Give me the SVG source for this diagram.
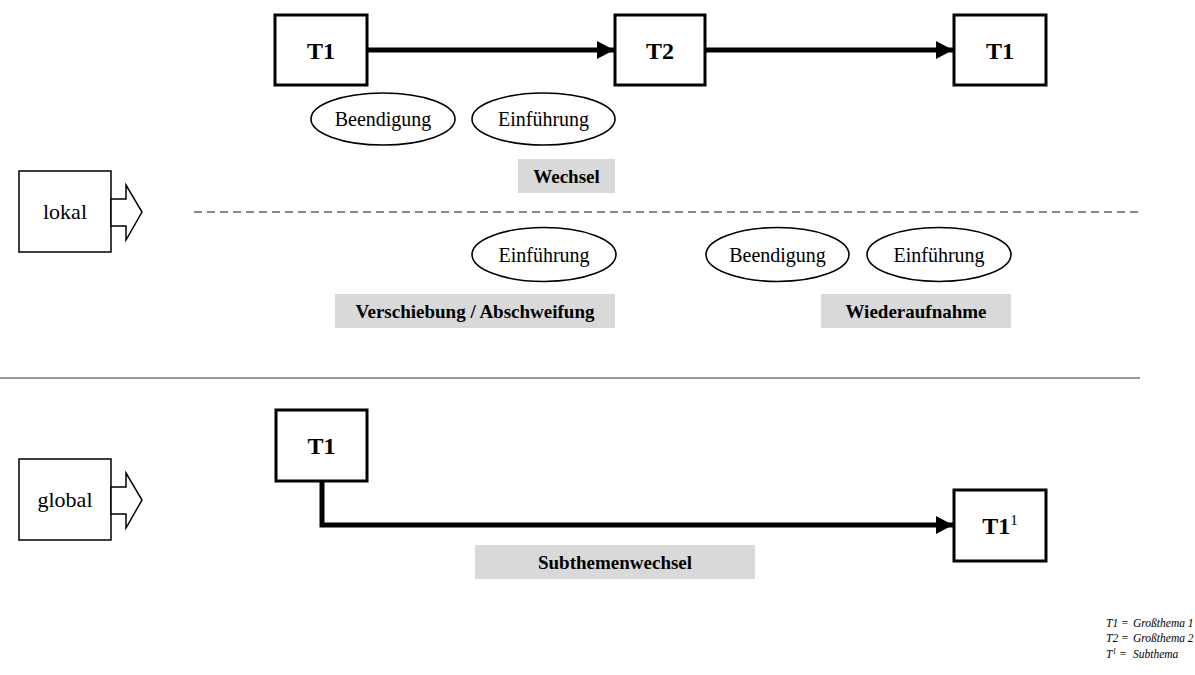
<svg xmlns="http://www.w3.org/2000/svg" width="1195" height="675" viewBox="0 0 1195 675">
<style>
.tbox{fill:#fff;stroke:#000;stroke-width:3}
.side{fill:#fff;stroke:#000;stroke-width:1.5}
.ell{fill:#fff;stroke:#000;stroke-width:1.6}
.lab{fill:#d9d9d9;stroke:none}
.tt{font-family:"Liberation Serif","Times New Roman",serif;font-weight:bold;font-size:24px;text-anchor:middle;fill:#000}
.et{font-family:"Liberation Serif","Times New Roman",serif;font-size:20px;text-anchor:middle;fill:#000}
.lt{font-family:"Liberation Serif","Times New Roman",serif;font-weight:bold;font-size:19px;text-anchor:middle;fill:#000}
.st{font-family:"Liberation Serif","Times New Roman",serif;font-size:22px;text-anchor:middle;fill:#000}
.leg{font-family:"Liberation Serif","Times New Roman",serif;font-style:italic;font-size:11.5px;fill:#000}
.conn{fill:none;stroke:#000;stroke-width:5}
</style>
<defs>
<marker id="ah" markerUnits="userSpaceOnUse" markerWidth="17" markerHeight="18" viewBox="0 0 17 18" refX="17" refY="9" orient="auto">
<path d="M0,0 L17,9 L0,18 z" fill="#000"/>
</marker>
</defs>

<line x1="194" y1="212" x2="1138" y2="212" stroke="#888" stroke-width="2" stroke-dasharray="8,5"/>
<line x1="0" y1="378" x2="1140" y2="378" stroke="#999" stroke-width="2"/>

<g id="connectors">
<line class="conn" x1="367" y1="50" x2="614" y2="50" marker-end="url(#ah)"/>
<line class="conn" x1="706" y1="50" x2="953" y2="50" marker-end="url(#ah)"/>
<path class="conn" d="M322,482 V525 H953" marker-end="url(#ah)"/>
</g>

<g id="lokal">
<rect class="side" x="19" y="171" width="92" height="81"/>
<polygon class="side" points="111,199 126,199 126,185 142,212 126,240 126,226 111,226"/>
<text class="st" x="65" y="219">lokal</text>
</g>
<g id="global">
<rect class="side" x="19" y="459" width="92" height="81"/>
<polygon class="side" points="111,487 126,487 126,473 142,500 126,528 126,514 111,514"/>
<text class="st" x="65" y="507">global</text>
</g>

<g id="t1-top">
<rect class="tbox" x="275" y="15" width="92" height="70"/>
<text class="tt" x="321" y="59">T1</text>
</g>
<g id="t2-top">
<rect class="tbox" x="615" y="15" width="90" height="70"/>
<text class="tt" x="660" y="59">T2</text>
</g>
<g id="t1-top-right">
<rect class="tbox" x="954" y="15" width="92" height="70"/>
<text class="tt" x="1000" y="59">T1</text>
</g>

<g id="ell-beendigung-1">
<ellipse class="ell" cx="383" cy="119" rx="72" ry="26"/>
<text class="et" x="383" y="126">Beendigung</text>
</g>
<g id="ell-einfuehrung-1">
<ellipse class="ell" cx="543.5" cy="119" rx="71.5" ry="26"/>
<text class="et" x="543.5" y="126">Einführung</text>
</g>
<g id="label-wechsel">
<rect class="lab" x="518" y="159" width="97" height="34"/>
<text class="lt" x="566.5" y="183">Wechsel</text>
</g>

<g id="ell-einfuehrung-2">
<ellipse class="ell" cx="544" cy="254.5" rx="72" ry="27"/>
<text class="et" x="544" y="261.5">Einführung</text>
</g>
<g id="ell-beendigung-3">
<ellipse class="ell" cx="777.5" cy="254.5" rx="71.5" ry="27"/>
<text class="et" x="777.5" y="261.5">Beendigung</text>
</g>
<g id="ell-einfuehrung-3">
<ellipse class="ell" cx="939" cy="254.5" rx="72" ry="27"/>
<text class="et" x="939" y="261.5">Einführung</text>
</g>
<g id="label-verschiebung">
<rect class="lab" x="335" y="294" width="280" height="34"/>
<text class="lt" x="475" y="318">Verschiebung / Abschweifung</text>
</g>
<g id="label-wiederaufnahme">
<rect class="lab" x="821" y="294" width="190" height="34"/>
<text class="lt" x="916" y="318">Wiederaufnahme</text>
</g>

<g id="t1-global">
<rect class="tbox" x="276" y="410" width="91" height="71"/>
<text class="tt" x="321.5" y="454">T1</text>
</g>
<g id="t1-sub">
<rect class="tbox" x="954" y="490" width="92" height="71"/>
<text class="tt" x="1000" y="534">T1<tspan font-size="15" font-weight="normal" dy="-9">1</tspan></text>
</g>
<g id="label-subthemenwechsel">
<rect class="lab" x="475" y="545" width="280" height="34"/>
<text class="lt" x="615" y="569">Subthemenwechsel</text>
</g>

<g id="legend">
<text class="leg" x="1106" y="627">T1 =</text><text class="leg" x="1133" y="627">Großthema 1</text>
<text class="leg" x="1106" y="642">T2 =</text><text class="leg" x="1133" y="642">Großthema 2</text>
<text class="leg" x="1106" y="658">T<tspan font-size="7.5" dy="-4">1</tspan><tspan dy="4"> =</tspan></text><text class="leg" x="1133" y="658">Subthema</text>
</g>
</svg>
